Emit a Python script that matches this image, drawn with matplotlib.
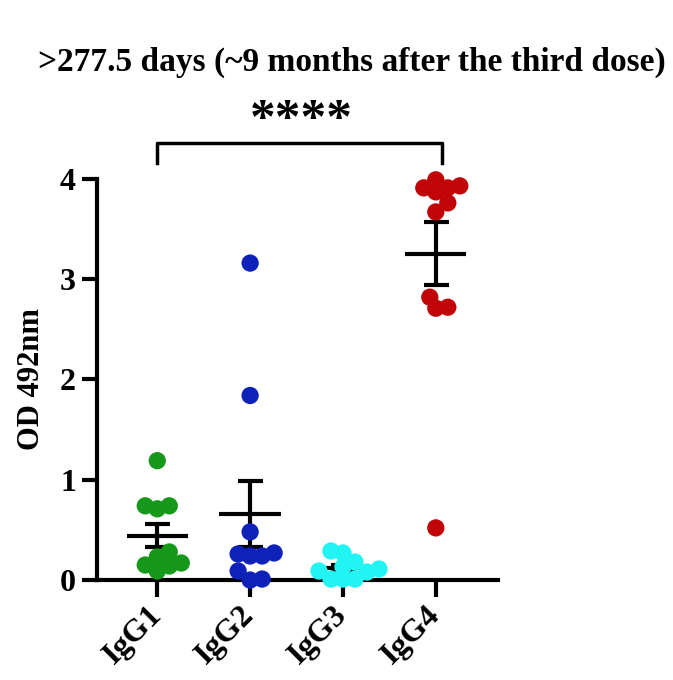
import matplotlib
matplotlib.use("Agg")
import matplotlib.pyplot as plt
import numpy as np

# data
groups = ["IgG1", "IgG2", "IgG3", "IgG4"]
igg1 = [1.19, 0.74, 0.71, 0.74, 0.28, 0.23, 0.15, 0.14, 0.17, 0.09]
igg2 = [3.16, 1.84, 0.48, 0.26, 0.24, 0.24, 0.27, 0.09, 0.00, 0.01]
igg3 = [0.29, 0.27, 0.18, 0.13, 0.11, 0.09, 0.08, 0.01, 0.01, 0.01]
igg4 = [3.99, 3.87, 3.91, 3.91, 3.93, 3.76, 3.67, 2.82, 2.71, 2.72, 0.52]
colors = ["#16981a", "#0c22b8", "#22f4f4", "#c00408"]

plt.rcParams["font.family"] = ["Liberation Serif"]
plt.rcParams["font.weight"] = "bold"


def swarm_offsets(ys, ax, xc, dmin):
    """Simple beeswarm: offsets in pixels, converted back to data x."""
    pts = ax.transData.transform(np.column_stack([np.full(len(ys), xc), ys]))
    order = np.argsort(ys)
    placed = []
    xs_px = np.zeros(len(ys))
    for i in order:
        px, py = pts[i]
        k = 0
        while True:
            cands = [0] if k == 0 else [k * dmin * 0.5, -k * dmin * 0.5]
            ok = None
            for c in cands:
                if all((px + c - qx) ** 2 + (py - qy) ** 2 >= dmin ** 2 for qx, qy in placed):
                    ok = c
                    break
            if ok is not None:
                break
            k += 1
        placed.append((px + ok, py))
        xs_px[i] = px + ok
    back = ax.transData.inverted().transform(np.column_stack([xs_px, pts[:, 1]]))
    return back[:, 0]


fig = plt.figure(figsize=(6.73, 6.80), dpi=100)
ax = fig.add_axes([0.144, 0.147, 0.596, 0.590])
ax.set_xlim(-0.65, 3.67)
ax.set_ylim(0, 4)

for i, (vals, col) in enumerate(zip([igg1, igg2, igg3, igg4], colors)):
    vals = np.array(vals)
    xs = swarm_offsets(vals, ax, i, 12)
    ax.scatter(xs, vals, s=155, color=col, edgecolors="none", zorder=5, clip_on=False)
    m = vals.mean()
    sem = vals.std(ddof=1) / np.sqrt(len(vals))
    ax.plot([i - 0.33, i + 0.33], [m, m], color="black", lw=3, zorder=4, solid_capstyle="butt")
    ax.errorbar(i, m, yerr=sem, color="black", lw=3, capsize=9, capthick=3, zorder=4)

for side in ["top", "right"]:
    ax.spines[side].set_visible(False)
for side in ["left", "bottom"]:
    ax.spines[side].set_linewidth(3)

ax.set_yticks([0, 1, 2, 3, 4])
ax.set_xticks(range(len(groups)))
ax.set_xticklabels(groups, rotation=45, ha="right", va="center", rotation_mode="anchor")
ax.tick_params(axis="y", length=11, width=3, labelsize=23, pad=4)
ax.tick_params(axis="x", length=12, width=3, labelsize=23, pad=10)
ax.set_ylabel("OD 492nm", fontsize=22, fontweight="bold", labelpad=10)

# significance bracket
ax.plot([0, 0, 3.07, 3.07], [4.16, 4.36, 4.36, 4.16], color="black", lw=2.5, clip_on=False)
ax.text(1.55, 4.58, "****", ha="center", va="center", fontsize=37, fontweight="bold")

fig.text(0.523, 0.908, ">277.5 days (~9 months after the third dose)", ha="center", va="center",
         fontsize=24, fontweight="bold")

fig.savefig("out.png", dpi=100)
